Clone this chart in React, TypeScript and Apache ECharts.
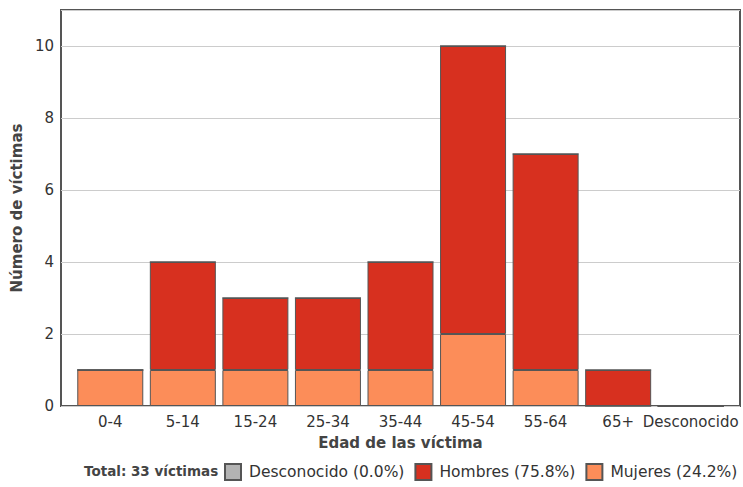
import React, { useEffect, useRef } from "react";
import * as echarts from "echarts";

const categories = ["0-4", "5-14", "15-24", "25-34", "35-44", "45-54", "55-64", "65+", "Desconocido"];
const mujeres = [1, 1, 1, 1, 1, 2, 1, 0, 0];
const hombres = [0, 3, 2, 2, 3, 8, 6, 1, 0];
const desconocido = [0, 0, 0, 0, 0, 0, 0, 0, 0];
const yTicks = { min: 0, max: 11, interval: 2 };

const FONT = "'DejaVu Sans', sans-serif";

export default function App() {
  const ref = useRef<HTMLDivElement>(null);
  useEffect(() => {
    if (!ref.current) return;
    const chart = echarts.init(ref.current, null, { renderer: "svg" });
    const sum = (a: number[]) => a.reduce((s, v) => s + v, 0);
    const total = sum(mujeres) + sum(hombres) + sum(desconocido);
    const pct = (a: number[]) => ((sum(a) / total) * 100).toFixed(1) + "%";
    const pcts: Record<string, string> = {
      Desconocido: pct(desconocido),
      Hombres: pct(hombres),
      Mujeres: pct(mujeres),
    };
    const border = { borderColor: "#555", borderWidth: 1 };
    const legendText = (pr: number) => ({ color: "#333", fontSize: 15.5, fontFamily: FONT, padding: [0, pr, 0, 3] });
    chart.setOption({
      animation: false,
      textStyle: { fontFamily: FONT },
      grid: [
        { left: 61, right: 3, top: 10, bottom: 81, show: true, borderColor: "#555", borderWidth: 2, backgroundColor: "#fff" },
        { left: 74, right: 16, top: 10, bottom: 81 },
      ],
      xAxis: [
        { type: "value", gridIndex: 0, min: 0, max: 1, show: false },
        {
          type: "category",
          gridIndex: 1,
          data: categories,
          axisLine: { show: false },
          axisTick: { show: false },
          axisLabel: { interval: 0, color: "#333", fontSize: 15, margin: 8, fontFamily: FONT },
          name: "Edad de las víctima",
          nameLocation: "middle",
          nameGap: 29,
          nameTextStyle: { color: "#444", fontSize: 15, fontWeight: "bold", fontFamily: FONT },
        },
      ],
      yAxis: [
        {
          type: "value",
          gridIndex: 0,
          min: yTicks.min,
          max: yTicks.max,
          interval: yTicks.interval,
          axisLine: { show: false },
          axisTick: { show: false },
          axisLabel: {
            color: "#333",
            fontSize: 15,
            margin: 7,
            fontFamily: FONT,
            formatter: (v: number) => (v > 10 ? "" : String(v)),
          },
          splitLine: { show: true, lineStyle: { color: "#ccc", width: 1 } },
          name: "Número de víctimas",
          nameLocation: "middle",
          nameGap: 33,
          nameTextStyle: { color: "#444", fontSize: 15, fontWeight: "bold", fontFamily: FONT },
        },
        { type: "value", gridIndex: 1, min: yTicks.min, max: yTicks.max, interval: yTicks.interval, show: false },
      ],
      legend: {
        top: 463,
        left: 224,
        width: 600,
        padding: 0,
        itemWidth: 16,
        itemHeight: 16,
        itemGap: 10,
        icon: "rect",
        data: [
          { name: "Desconocido", textStyle: legendText(2) },
          { name: "Hombres", textStyle: legendText(18) },
          { name: "Mujeres", textStyle: legendText(0) },
        ],
        textStyle: legendText(0),
        formatter: (name: string) => `${name} (${pcts[name]})`,
        selectedMode: false,
      },
      graphic: [
        {
          type: "text",
          left: 84,
          top: 464,
          style: { text: `Total: ${total} víctimas`, fill: "#444", font: `bold 13.5px ${FONT}` },
        },
      ],
      series: [
        {
          name: "Mujeres",
          type: "bar",
          xAxisIndex: 1,
          yAxisIndex: 1,
          stack: "t",
          barWidth: 66,
          data: mujeres,
          itemStyle: { color: "#fc8d59", ...border },
        },
        {
          name: "Hombres",
          type: "bar",
          xAxisIndex: 1,
          yAxisIndex: 1,
          stack: "t",
          barWidth: 66,
          data: hombres,
          itemStyle: { color: "#d7301f", ...border },
        },
        {
          name: "Desconocido",
          type: "bar",
          xAxisIndex: 1,
          yAxisIndex: 1,
          stack: "t",
          barWidth: 66,
          data: desconocido,
          itemStyle: { color: "#b3b3b3", ...border },
        },
      ],
    });
    return () => chart.dispose();
  }, []);
  return <div ref={ref} style={{ width: 743, height: 487, position: "absolute", left: 0, top: 0 }} />;
}
